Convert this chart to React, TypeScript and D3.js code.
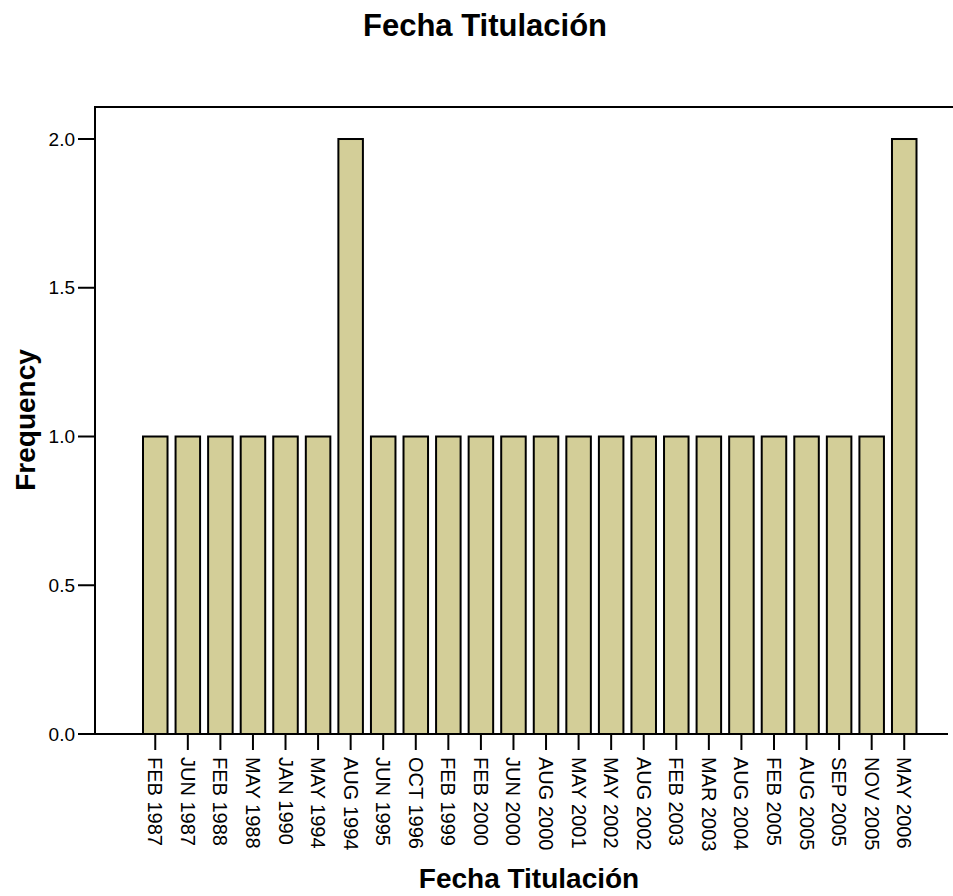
import React from "react";
import * as d3 from "d3";

const categories = [
  "FEB 1987", "JUN 1987", "FEB 1988", "MAY 1988", "JAN 1990", "MAY 1994",
  "AUG 1994", "JUN 1995", "OCT 1996", "FEB 1999", "FEB 2000", "JUN 2000",
  "AUG 2000", "MAY 2001", "MAY 2002", "AUG 2002", "FEB 2003", "MAR 2003",
  "AUG 2004", "FEB 2005", "AUG 2005", "SEP 2005", "NOV 2005", "MAY 2006",
];
const frequencies = [1, 1, 1, 1, 1, 1, 2, 1, 1, 1, 1, 1, 1, 1, 1, 1, 1, 1, 1, 1, 1, 1, 1, 2];
const yTicks = [0, 0.5, 1.0, 1.5, 2.0];
const title = "Fecha Titulación";
const xTitle = "Fecha Titulación";
const yTitle = "Frequency";

const W = 953;
const H = 896;
const left = 95;
const right = 948;
const top = 107;
const bottom = 734;
const font = "'Liberation Sans', Arial, sans-serif";

export default function App() {
  const x = d3
    .scaleBand<string>()
    .domain(categories)
    .range([143, 916.5])
    .paddingInner(0.247)
    .paddingOuter(0);
  const y = d3.scaleLinear().domain([0, 2.1076]).range([bottom, top]);
  const fmt = d3.format(".1f");

  return (
    <svg width={W} height={H} style={{ position: "absolute", left: 0, top: 0, background: "#fff" }}>
      <text x={485} y={36} textAnchor="middle" fontFamily={font} fontWeight="bold" fontSize={31} fill="#000">
        {title}
      </text>
      {/* bars */}
      {categories.map((c, i) => (
        <rect
          key={c}
          x={x(c)}
          y={y(frequencies[i])}
          width={x.bandwidth()}
          height={y(0) - y(frequencies[i])}
          fill="#d3ce98"
          stroke="#000"
          strokeWidth={2}
        />
      ))}
      {/* frame */}
      <line x1={left} x2={W} y1={top} y2={top} stroke="#000" strokeWidth={2} />
      <line x1={left} x2={left} y1={top - 1} y2={bottom + 1} stroke="#000" strokeWidth={2} />
      <line x1={left - 1} x2={right} y1={bottom} y2={bottom} stroke="#000" strokeWidth={2} />
      {/* y ticks */}
      {yTicks.map((t) => (
        <g key={t}>
          <line x1={left - 17} x2={left} y1={y(t)} y2={y(t)} stroke="#000" strokeWidth={2} />
          <text
            x={left - 20}
            y={y(t)}
            dy="0.35em"
            textAnchor="end"
            fontFamily={font}
            fontSize={19}
            fill="#000"
          >
            {fmt(t)}
          </text>
        </g>
      ))}
      {/* x ticks */}
      {categories.map((c) => {
        const cx = (x(c) as number) + x.bandwidth() / 2;
        return (
          <g key={c}>
            <line x1={cx} x2={cx} y1={bottom} y2={bottom + 16} stroke="#000" strokeWidth={2} />
            <text
              transform={`translate(${cx},${bottom + 23}) rotate(90)`}
              dy="0.35em"
              textAnchor="start"
              fontFamily={font}
              fontSize={20}
              fill="#000"
            >
              {c}
            </text>
          </g>
        );
      })}
      <text x={529} y={888} textAnchor="middle" fontFamily={font} fontWeight="bold" fontSize={28} fill="#000">
        {xTitle}
      </text>
      <text
        transform={`translate(35,420) rotate(-90)`}
        textAnchor="middle"
        fontFamily={font}
        fontWeight="bold"
        fontSize={28}
        fill="#000"
      >
        {yTitle}
      </text>
    </svg>
  );
}
